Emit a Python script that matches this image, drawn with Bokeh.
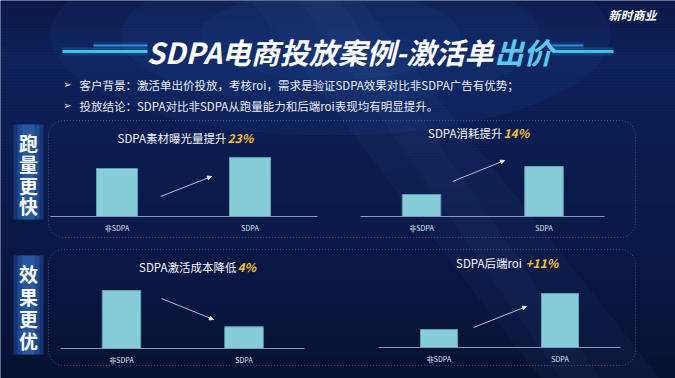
import numpy as np
from bokeh.plotting import figure
from bokeh.models import Range1d, Arrow, NormalHead
from bokeh.core.properties import value
from bokeh.embed import file_html
from bokeh.resources import INLINE

# ---------------- data ----------------
categories = ["非SDPA", "SDPA"]
exposure_index = [100, 123]     # 曝光量 (非SDPA = 100)
spend_index = [100, 114]        # 消耗
cost_index = [100, 96]          # 激活成本
roi_index = [100, 111]          # 后端roi
axis_base = [0, 89, 93.6, 94.5]  # value at the baseline of each panel

chart_titles = ["SDPA素材曝光量提升", "SDPA消耗提升", "SDPA激活成本降低", "SDPA后端roi "]
chart_highlights = ["23%", "14%", "4%", "+11%"]
side_labels = ["跑量更快", "效果更优"]
slide_title = "SDPA电商投放案例-激活单"
slide_title_accent = "出价"
bullets = ["客户背景：激活单出价投放，考核roi，需求是验证SDPA效果对比非SDPA广告有优势；",
           "投放结论：SDPA对比非SDPA从跑量能力和后端roi表现均有明显提升。"]
logo_text = "新时商业"

# ---------------- styles / canvas ----------------
W, H = 675, 378
CJK = value("Noto Sans CJK SC")
BAR = "#87cdd9"
BAR_LINE = "#5b9fb2"
GOLD = "#f2c233"

p = figure(width=W, height=H, x_range=Range1d(0, W), y_range=Range1d(H, 0),
           output_backend="svg", toolbar_location=None,
           x_axis_location=None, y_axis_location=None, min_border=0,
           outline_line_color=None, background_fill_color="#0b1a4a",
           border_fill_color="#0b1a4a")
p.xgrid.visible = False
p.ygrid.visible = False

# background gradient
stop_y = [0, 60, 170, 300, 378]
stop_c = np.array([(11, 25, 72), (14, 34, 92), (11, 28, 78), (9, 22, 62), (7, 17, 48)], float)
ys = np.arange(0, H, 3.0)
cols = []
for y in ys:
    c = [np.interp(y + 1.5, stop_y, stop_c[:, k]) for k in range(3)]
    cols.append("#%02x%02x%02x" % tuple(int(round(v)) for v in c))
p.quad(left=0, right=W, top=ys, bottom=ys + 3.2, fill_color=cols, line_color=None)
for w, hh, a in [(560, 200, 0.08), (420, 140, 0.08), (260, 90, 0.08)]:
    p.ellipse(x=330, y=35, width=w, height=hh, fill_color="#3466c0", fill_alpha=a, line_color=None)
p.patch([250, 360, 660, 540], [0, 0, 378, 378], fill_color="#5a8ad8", fill_alpha=0.05, line_color=None)
p.patch([300, 340, 600, 560], [0, 0, 378, 378], fill_color="#6a9ae0", fill_alpha=0.04, line_color=None)


def rounded_rect(x0, y0, x1, y1, r, n=14):
    xs, yv = [], []
    for cx, cy, a0, a1 in [(x0 + r, y0 + r, np.pi, 1.5 * np.pi),
                           (x1 - r, y0 + r, 1.5 * np.pi, 2 * np.pi),
                           (x1 - r, y1 - r, 0, 0.5 * np.pi),
                           (x0 + r, y1 - r, 0.5 * np.pi, np.pi)]:
        t = np.linspace(a0, a1, n)
        xs.extend(cx + r * np.cos(t))
        yv.extend(cy + r * np.sin(t))
    xs.append(xs[0])
    yv.append(yv[0])
    return xs, yv


for b in [(48, 120, 635, 237), (48, 249, 635, 365)]:
    bx, by = rounded_rect(*b, r=15)
    p.line(bx, by, line_color="#5d7fc4", line_alpha=0.55, line_width=1, line_dash="1 2")

# ---------------- header ----------------
for x0, x1, y, lw, col in [(62, 147, 51, 3, "#45c8f2"), (93, 147, 45, 2, "#2f8fe0"),
                           (552, 613, 51, 3, "#45c8f2"), (548, 583, 45, 2, "#2f8fe0")]:
    p.segment(x0=[x0], y0=[y], x1=[x1], y1=[y], line_color=col, line_width=lw + 5, line_alpha=0.16)
    p.segment(x0=[x0], y0=[y], x1=[x1], y1=[y], line_color=col, line_width=lw, line_alpha=0.95)
p.text(x=[493], y=[50], text=[slide_title], text_font=CJK, text_font_size="29px",
       text_font_style="bold italic", text_color="#ffffff", text_align="right", text_baseline="middle")
p.text(x=[494], y=[50], text=[slide_title_accent], text_font=CJK, text_font_size="29px",
       text_font_style="bold italic", text_color="#5cc8f0", text_align="left", text_baseline="middle")
p.text(x=[67, 67], y=[84, 105], text=["➢", "➢"], text_font=value("DejaVu Sans"),
       text_font_size="10px", text_color="#f0f3fa", text_align="center", text_baseline="middle")
p.text(x=[79, 79], y=[84, 105], text=bullets, text_font=CJK, text_font_size="11.5px",
       text_color="#e8edf6", text_align="left", text_baseline="middle")
p.text(x=[632], y=[14], text=[logo_text], text_font=CJK, text_font_size="12px",
       text_font_style="bold italic", text_color="#ffffff", text_align="center", text_baseline="middle")

# ---------------- side labels ----------------
for label, yc in [(side_labels[0], [142, 163, 185, 205]), (side_labels[1], [273, 296, 318, 340])]:
    y0, y1 = yc[0] - 18, yc[-1] + 14
    p.quad(left=13, right=43, top=y0, bottom=y1, fill_color="#173a7c", fill_alpha=0.85, line_color=None)
    p.quad(left=17, right=39, top=y0, bottom=y1, fill_color="#2556a2", fill_alpha=0.6, line_color=None)
    p.quad(left=22, right=34, top=y0, bottom=y1, fill_color="#3468b2", fill_alpha=0.5, line_color=None)
    p.text(x=[28] * len(label), y=yc, text=list(label), text_font=CJK, text_font_size="19px",
           text_font_style="bold", text_color="#ffffff", text_align="center", text_baseline="middle")


# ---------------- chart panels ----------------
def chart(name, vals, base, baseline, ppu, c0, spacing, bar_w, axis_x,
          title, highlight, title_x, title_y, arrow):
    # per-panel scales: category index -> bar centre, value -> bar top
    p.extra_x_ranges[name + "_x"] = Range1d(-c0 / spacing, (W - c0) / spacing)
    p.extra_y_ranges[name + "_y"] = Range1d(base - (H - baseline) / ppu, base + baseline / ppu)
    rk = dict(x_range_name=name + "_x", y_range_name=name + "_y")
    idx = list(range(len(categories)))
    p.vbar(x=idx, top=vals, bottom=base, width=bar_w / spacing, fill_color=BAR,
           line_color=BAR_LINE, line_width=1, **rk)
    p.segment(x0=[axis_x[0]], y0=[baseline], x1=[axis_x[1]], y1=[baseline],
              line_color="#8a98bd", line_width=1.2)
    p.text(x=idx, y=[base] * len(idx), text=categories, text_font=CJK, text_font_size="7px",
           text_color="#dce3ee", text_align="center", text_baseline="top", y_offset=6, **rk)
    p.text(x=[title_x], y=[title_y], text=[title], text_font=CJK, text_font_size="11.5px",
           text_color="#f2f4fa", text_align="right", text_baseline="middle")
    p.text(x=[title_x + 1], y=[title_y], text=[highlight], text_font=CJK, text_font_size="12px",
           text_font_style="bold italic", text_color=GOLD, text_align="left", text_baseline="middle")
    p.add_layout(Arrow(end=NormalHead(size=4, fill_color="#e6ebf4", line_color="#e6ebf4"),
                       x_start=arrow[0], y_start=arrow[1], x_end=arrow[2], y_end=arrow[3],
                       line_color="#c9d0e0", line_width=0.9))


chart("A", exposure_index, axis_base[0], 216, 48 / 100, 116.5, 133, 41,
      (50, 317), chart_titles[0], chart_highlights[0], 226, 137, (160, 196, 211, 176))
chart("B", spend_index, axis_base[1], 216, 22 / 11, 421, 122.5, 38.5,
      (360, 604), chart_titles[1], chart_highlights[1], 502, 132, (452, 181, 504, 160))
chart("C", cost_index, axis_base[2], 348, 58 / 6.4, 121, 122.5, 38.5,
      (60, 304), chart_titles[2], chart_highlights[2], 236, 266, (161, 298, 213, 319))
chart("D", roi_index, axis_base[3], 347, 18 / 5.5, 438.5, 121, 37,
      (378, 620), chart_titles[3], chart_highlights[3], 524, 262, (473, 327, 526, 306))

open("out.html", "w").write(file_html(p, INLINE))
